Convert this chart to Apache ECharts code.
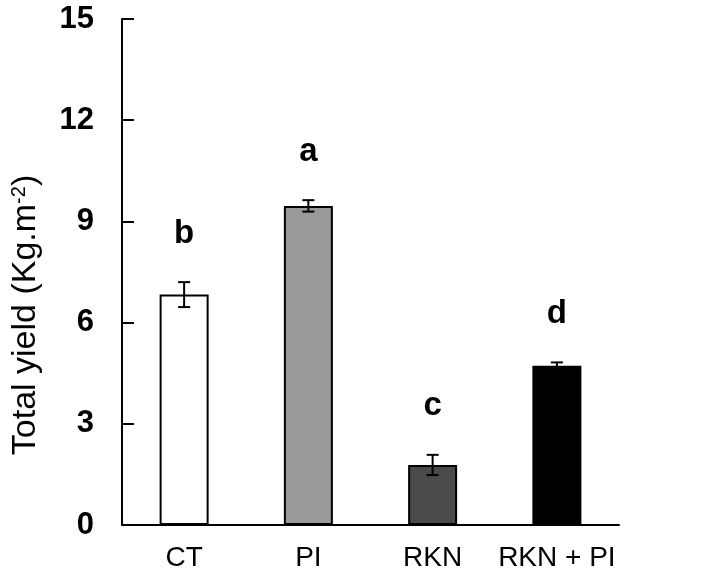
<!DOCTYPE html>
<html><head><meta charset="utf-8">
<script src="https://cdn.jsdelivr.net/npm/echarts@6/dist/echarts.min.js"></script>
<style>html,body{margin:0;padding:0;background:#fff}#c{width:711px;height:586px}</style>
</head><body><div id="c"></div>
<script>
var categories = ['CT', 'PI', 'RKN', 'RKN + PI'];
var values = [6.83, 9.46, 1.78, 4.72];
var errors = [0.37, 0.17, 0.3, 0.1];
var letters = ['b', 'a', 'c', 'd'];
var colors = ['#ffffff', '#999999', '#4a4a4a', '#000000'];
var yTicks = [0, 3, 6, 9, 12, 15];

var chart = echarts.init(document.getElementById('c'));
chart.setOption({
  animation: false,
  backgroundColor: '#fff',
  grid: {left: 122, right: 92, top: 19, bottom: 61},
  graphic: [{
    type: 'text', x: 26, y: 315, rotation: Math.PI / 2,
    style: {
      text: '{n|Total yield (Kg.m}{s|-2}{n|)}',
      align: 'center', verticalAlign: 'middle',
      rich: {
        n: {fontFamily: 'Liberation Sans', fontSize: 34, fill: '#000'},
        s: {fontFamily: 'Liberation Sans', fontSize: 20, fill: '#000', verticalAlign: 'top', padding: [0, 0, 14, 0]}
      }
    }
  }],
  xAxis: {
    type: 'category', data: categories,
    axisLine: {lineStyle: {color: '#000', width: 2}},
    axisTick: {show: false},
    axisLabel: {interval: 0, hideOverlap: false, fontFamily: 'Liberation Sans', fontSize: 28, color: '#000', margin: 19}
  },
  yAxis: {
    type: 'value', min: 0, max: 15, interval: 3,
    axisLine: {show: true, lineStyle: {color: '#000', width: 2}},
    axisTick: {show: true, inside: true, length: 12, lineStyle: {color: '#000', width: 2}},
    axisLabel: {fontFamily: 'Liberation Sans', fontSize: 31, fontWeight: 'bold', color: '#000', margin: 28},
    splitLine: {show: false}
  },
  series: [{
    type: 'bar', barWidth: 49,
    data: values.map(function (v, i) {
      return {value: v, itemStyle: {color: colors[i], borderColor: '#000', borderWidth: 2}};
    })
  }, {
    type: 'custom',
    data: values.map(function (v, i) { return [i, v, errors[i]]; }),
    renderItem: function (params, api) {
      var x = api.value(0), v = api.value(1), e = api.value(2);
      var top = api.coord([x, v + e]), bot = api.coord([x, v - e]);
      var cap = 6;
      var st = {stroke: '#000', lineWidth: 2};
      return {type: 'group', children: [
        {type: 'line', shape: {x1: top[0], y1: top[1], x2: bot[0], y2: bot[1]}, style: st},
        {type: 'line', shape: {x1: top[0]-cap, y1: top[1], x2: top[0]+cap, y2: top[1]}, style: st},
        {type: 'line', shape: {x1: bot[0]-cap, y1: bot[1], x2: bot[0]+cap, y2: bot[1]}, style: st},
        {type: 'text', style: {text: letters[params.dataIndex], x: top[0], y: top[1] - 32,
          textAlign: 'center', textVerticalAlign: 'bottom',
          font: 'bold 33px "Liberation Sans"', fill: '#000'}}
      ]};
    },
    z: 10
  }]
});
</script></body></html>
